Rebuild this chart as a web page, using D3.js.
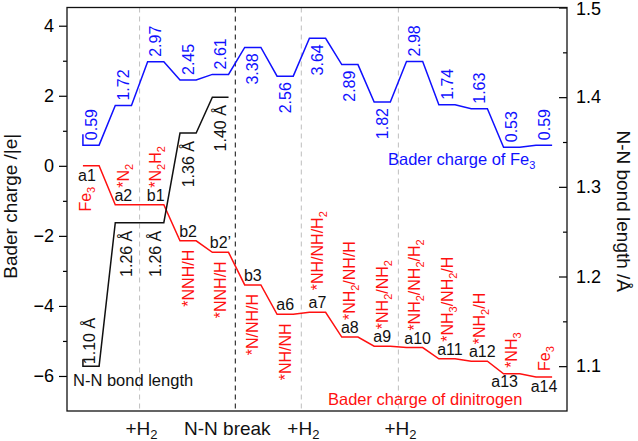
<!DOCTYPE html>
<html><head><meta charset="utf-8">
<script src="https://cdn.jsdelivr.net/npm/d3@7"></script>
<style>
body{margin:0;background:#fff}
svg{display:block}
text{font-family:"Liberation Sans",Arial,Helvetica,sans-serif}
</style>
</head><body>
<svg id="c" width="638" height="441"></svg>
<script>
// ---- data ----
const states = ["a1","a2","b1","b2","b2’","b3","a6","a7","a8","a9","a10","a11","a12","a13","a14"];
const species = ["Fe_3","*N_2","*N_2H_2","*NNH/H","*NNH/H","*N/NH/H","*NH/NH","*NH/NH/H_2","*NH_2/NH/H","*NH_2/NH_2","*NH_2/NH_2/H_2","*NH_3/NH_2/H","*NH_2/H","*NH_3","Fe_3"];
const dinitrogenCharge = [0.00,-1.11,-1.11,-2.14,-2.47,-3.40,-4.24,-4.18,-4.89,-5.15,-5.19,-5.51,-5.58,-5.94,-6.03];
const fe3Charge = [0.59,1.72,2.97,2.45,2.61,3.38,2.56,3.64,2.89,1.82,2.98,1.74,1.63,0.53,0.59];
const bondLength = [1.10,1.26,1.26,1.36,1.40];
const bondLabels = ["1.10 Å","1.26 Å","1.26 Å","1.36 Å","1.40 Å"];
const leftTicks = [-6,-4,-2,0,2,4];
const leftMinor = [-5,-3,-1,1,3];
const rightTicks = [1.1,1.2,1.3,1.4,1.5];
const rightMinor = [1.15,1.25,1.35,1.45];
const stepLabels = ["+H_2","N-N break","+H_2","+H_2"];
const stepAt = [1.5,4.46,6.5,9.5];
const stepDark = [false,true,false,false];

// ---- layout (label sides) ----
const fe3Side = ["up","up","up","up","up","down","down","down","down","down","up","up","up","up","up"];
const stateSide = ["below","above","above","above","above","above","above","above","above","above","above","above","above","below","below"];
const speciesSide = ["down","up","up","down","down","down","down","up","up","up","up","up","up","up","up"];
const bondSide = ["up","down","down","down","down"];

const BLUE="#1010ff", RED="#ff1010";
const svg = d3.select("#c");
const L=67,R=567,T=7.5,B=411;
const x = d3.scaleLinear().domain([-0.742,14.71]).range([L,R]);
const yL = d3.scaleLinear().domain([-7,4.52]).range([B,T]);
const yR = d3.scaleLinear().domain([1.05,1.5]).range([B,T]);
const hw = 0.25;

function addText(sel, str, subSize){
  const parts=[]; let i=0, buf="";
  while(i<str.length){
    if(str[i]==="_"){ if(buf){parts.push({t:buf,s:false});buf="";} parts.push({t:str[i+1],s:true}); i+=2; }
    else { buf+=str[i]; i++; }
  }
  if(buf) parts.push({t:buf,s:false});
  let prevSub=false;
  parts.forEach(p=>{
    const ts=sel.append("tspan").text(p.t);
    if(p.s){ ts.attr("font-size",subSize).attr("dy",4); prevSub=true; }
    else if(prevSub){ ts.attr("dy",-4); prevSub=false; }
  });
}

// dashed guides
stepAt.forEach((s,k)=>{
  svg.append("line").attr("x1",x(s)).attr("x2",x(s)).attr("y1",T).attr("y2",B)
    .attr("stroke",stepDark[k]?"#222":"#c4c4c4").attr("stroke-width",1.1).attr("stroke-dasharray","5,4");
});

function stepPoints(vals, ys){
  const pts=[];
  vals.forEach((v,i)=>{pts.push([x(i-hw),ys(v)]);pts.push([x(i+hw),ys(v)]);});
  return pts;
}
const line=d3.line();

const bp=stepPoints(fe3Charge,yL); bp.unshift([bp[0][0],bp[0][1]-11]);
svg.append("path").attr("d",line(bp)).attr("fill","none").attr("stroke",BLUE).attr("stroke-width",1.5);
svg.append("path").attr("d",line(stepPoints(dinitrogenCharge,yL))).attr("fill","none").attr("stroke",RED).attr("stroke-width",1.5);
const kp=stepPoints(bondLength,yR); kp.unshift([kp[0][0],kp[0][1]-7]);
svg.append("path").attr("d",line(kp)).attr("fill","none").attr("stroke","#111").attr("stroke-width",1.5);

// blue value labels
fe3Charge.forEach((v,i)=>{
  const up=fe3Side[i]==="up";
  const yy=yL(v)+(up?-5:6);
  svg.append("text").attr("transform",`translate(${x(i)},${yy}) rotate(-90)`)
    .attr("text-anchor",up?"start":"end").attr("dy","0.35em").attr("font-size",16).attr("fill",BLUE)
    .text(d3.format(".2f")(v));
});
// bond labels
bondLength.forEach((v,i)=>{
  const up=bondSide[i]==="up";
  const yy=yR(v)+(up?-2:8);
  svg.append("text").attr("transform",`translate(${x(i)-(i===0?2:0)+(i===1?3:0)},${yy}) rotate(-90)`)
    .attr("text-anchor",up?"start":"end").attr("dy","0.35em").attr("font-size",16).attr("fill","#111")
    .text(bondLabels[i]);
});
// state labels
states.forEach((s,i)=>{
  const v=dinitrogenCharge[i];
  const above=stateSide[i]==="above";
  svg.append("text").attr("x",x(i)+(i===0?-4:0)+(i>=10&&i<=12?3:0)-(i===13?7:0)).attr("y",yL(v)+(above?-4:(i===13?13:15)))
    .attr("text-anchor","middle").attr("font-size",16).attr("fill","#111").text(s);
});
// species labels
species.forEach((s,i)=>{
  const v=dinitrogenCharge[i];
  const up=speciesSide[i]==="up";
  const labAbove=stateSide[i]==="above";
  let off;
  if(up) off = labAbove ? -(i===7?22:17) : -6;
  else off = labAbove ? 9 : 21;
  const t=svg.append("text").attr("transform",`translate(${x(i)-(i===0?6:0)},${yL(v)+off}) rotate(-90)`)
    .attr("text-anchor",up?"start":"end").attr("dy","0.35em").attr("font-size",16).attr("fill",RED);
  addText(t,s,11);
});

// legends
svg.append("text").attr("x",73).attr("y",386).attr("font-size",16.5).attr("fill","#111").text("N-N bond length");
const lb=svg.append("text").attr("x",388).attr("y",165).attr("font-size",16.5).attr("fill",BLUE);
addText(lb,"Bader charge of Fe_3",11);
svg.append("text").attr("x",328).attr("y",405).attr("font-size",16.5).attr("fill",RED).text("Bader charge of dinitrogen");

// step labels
stepLabels.forEach((s,k)=>{
  const t=svg.append("text").attr("x",x(stepAt[k])+(k===1?-8:2)).attr("y",435).attr("text-anchor","middle")
    .attr("font-size",19).attr("fill","#111");
  addText(t,s,13);
});

// axes
const gl=svg.append("g").attr("transform",`translate(${L},0)`)
  .call(d3.axisLeft(yL).tickValues(leftTicks).tickSize(8).tickPadding(5));
gl.select(".domain").remove();
gl.selectAll("text").attr("font-size",18).attr("font-family","Liberation Sans, Arial, sans-serif");
gl.selectAll("line").attr("stroke-width",1.2);
const glm=svg.append("g").attr("transform",`translate(${L},0)`)
  .call(d3.axisLeft(yL).tickValues(leftMinor).tickSize(4).tickFormat(""));
glm.select(".domain").remove(); glm.selectAll("line").attr("stroke-width",1.2);

const gr=svg.append("g").attr("transform",`translate(${R},0)`)
  .call(d3.axisRight(yR).tickValues(rightTicks).tickSizeInner(-8).tickSizeOuter(0).tickPadding(9).tickFormat(d3.format(".1f")));
gr.select(".domain").remove();
gr.selectAll("text").attr("font-size",18).attr("font-family","Liberation Sans, Arial, sans-serif")
  .attr("dy",d=>d===1.5?"0.4em":"0.32em");
gr.selectAll("line").attr("stroke-width",1.2);
const grm=svg.append("g").attr("transform",`translate(${R},0)`)
  .call(d3.axisRight(yR).tickValues(rightMinor).tickSizeInner(-4).tickSizeOuter(0).tickFormat(""));
grm.select(".domain").remove(); grm.selectAll("line").attr("stroke-width",1.2);

// frame
svg.append("rect").attr("x",L).attr("y",T).attr("width",R-L).attr("height",B-T)
  .attr("fill","none").attr("stroke","#111").attr("stroke-width",1.3);

// axis titles
svg.append("text").attr("transform",`translate(17,${(T+B)/2-3}) rotate(-90)`).attr("text-anchor","middle")
  .attr("font-size",19).attr("fill","#111").text("Bader charge /|e|");
svg.append("text").attr("transform",`translate(617,${(T+B)/2+2}) rotate(90)`).attr("text-anchor","middle")
  .attr("font-size",19).attr("fill","#111").text("N-N bond length /Å");
</script>
</body></html>
